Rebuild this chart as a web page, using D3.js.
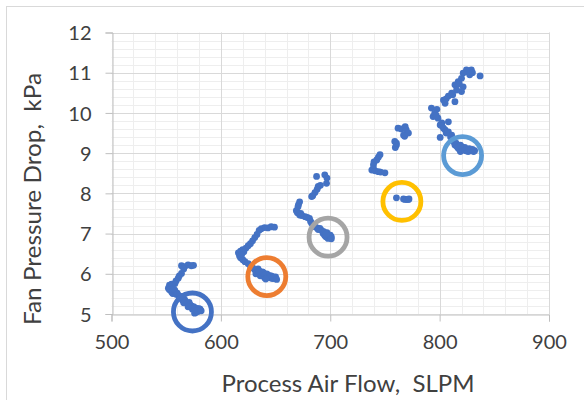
<!DOCTYPE html>
<html>
<head>
<meta charset="utf-8">
<script src="https://cdn.jsdelivr.net/npm/d3@7"></script>
<style>
  html, body { margin: 0; padding: 0; background: #fff; }
  svg { display: block; }
  text { font-family: Lato, "Open Sans", sans-serif; fill: #404040; }
</style>
</head>
<body>
<svg id="chart" width="584" height="400"></svg>
<script>
// Operating runs: [process air flow (SLPM), fan pressure drop (kPa)]
const run1 = [
  [564, 6.20], [567, 6.18], [570, 6.22], [573, 6.20], [575, 6.21], [566, 6.12],
  [564, 6.01], [562, 5.95], [561, 5.89], [559, 5.82], [558, 5.76], [555, 5.74],
  [553, 5.72], [552, 5.64], [553, 5.60], [555, 5.55], [556, 5.51], [559, 5.49],
  [561, 5.47], [563, 5.44], [564, 5.43], [566, 5.38], [567, 5.35], [568, 5.30],
  [569, 5.27], [570, 5.25], [572, 5.22], [573, 5.20], [575, 5.18], [576, 5.16],
  [578, 5.14], [580, 5.13], [581, 5.12], [579, 5.06], [577, 5.04], [576, 5.02],
  [571, 5.29], [565, 5.34], [558, 5.58], [562, 5.40], [574, 5.12], [560, 5.52],
  [557, 5.62], [566, 5.28], [570, 5.18], [578, 5.09], [582, 5.08]
];
const run2 = [
  [637, 7.12], [640, 7.15], [643, 7.14], [646, 7.17], [649, 7.16], [635, 7.08],
  [633, 6.98], [631, 6.90], [629, 6.82], [627, 6.75], [625, 6.70], [623, 6.64],
  [620, 6.60], [618, 6.56], [616, 6.52], [617, 6.45], [618, 6.40], [620, 6.35],
  [622, 6.30], [625, 6.25], [627, 6.20], [629, 6.15], [631, 6.10], [633, 6.05],
  [635, 6.02], [637, 5.98], [639, 5.95], [641, 5.93], [643, 5.92], [645, 5.90],
  [647, 5.88], [649, 5.88], [636, 5.95], [640, 5.90], [644, 5.96], [632, 6.00],
  [638, 6.05], [634, 6.12], [642, 6.00], [650, 5.92], [621, 6.55], [619, 6.48],
  [646, 5.95], [648, 5.92], [639, 6.02], [635, 6.07], [641, 5.87], [651, 5.86]
];
const run3 = [
  [687.5, 8.42], [695, 8.46], [697, 8.38], [696.6, 8.25], [689, 8.17], [691, 8.20],
  [688, 8.10], [686, 8.02], [684, 7.94], [683, 7.92], [672, 7.79], [671, 7.72],
  [670.5, 7.67], [669, 7.57], [670, 7.52], [672, 7.46], [674, 7.45], [677, 7.42],
  [679, 7.40], [681, 7.38], [682, 7.30], [683, 7.26], [685, 7.20], [686, 7.17],
  [688, 7.14], [690.5, 7.13], [692, 7.08], [693.5, 7.00], [695, 6.95], [696, 6.92],
  [698, 6.88], [700, 6.90], [701, 6.92], [699, 6.95], [697, 7.02], [694, 7.05],
  [700, 6.96], [689, 7.10], [673, 7.50], [684, 7.22], [696, 6.99], [701, 6.87]
];
const run4 = [
  [738, 8.58], [739.5, 8.62], [741, 8.56], [744, 8.54], [746, 8.53], [750, 8.51],
  [739.5, 8.71], [740, 8.78], [742.5, 8.83], [744, 8.90], [745.5, 8.96],
  [759, 9.29], [760.5, 9.20], [759.5, 9.14], [760.5, 9.25],
  [762, 9.62], [765, 9.60], [768.5, 9.66], [769.5, 9.58], [771.5, 9.50],
  [767, 9.45], [768, 9.42]
];
const run5 = [
  [760.5, 7.89], [767, 7.86], [768.5, 7.85], [770, 7.85], [771.5, 7.85], [772, 7.86]
];
const run6 = [
  [824.5, 11.07], [829, 11.07], [827.5, 10.95], [826, 11.02], [821.5, 10.99], [837, 10.92],
  [830, 11.00], [820, 10.86], [817, 10.78], [814, 10.70], [821.5, 10.65], [820, 10.53],
  [815.5, 10.57], [811, 10.49], [808, 10.42], [803.5, 10.32], [814, 10.28], [805, 10.24],
  [806, 10.35], [792.5, 10.12], [797.5, 10.09], [795.5, 9.99], [794, 9.91], [796, 9.95],
  [798.5, 9.87], [808, 9.78], [800.5, 9.70], [802, 9.75], [803.5, 9.62], [805, 9.58],
  [808, 9.53], [800.5, 9.39], [811, 9.45], [812.5, 9.33], [814, 9.20], [815, 9.25],
  [817, 9.12], [819, 9.04], [821.5, 9.08], [824, 9.06], [826, 9.04], [828, 9.06],
  [831, 9.04], [832, 9.06], [818, 9.10], [822, 9.12], [825, 9.08], [810, 9.40],
  [797, 9.93], [802, 9.68], [818, 10.72], [812, 10.45],
  [816, 9.16], [820, 9.16], [823, 9.14], [827, 9.11], [830, 9.09], [819, 9.20],
  [813, 9.28], [806, 9.50]
];

// Highlighted steady-state points: [flow, pressure, ring colour]
const highlights = [
  [574, 5.05, "#4472C4"],
  [642, 5.93, "#ED7D31"],
  [698, 6.91, "#A5A5A5"],
  [765.5, 7.80, "#FFC000"],
  [821, 8.94, "#5B9BD5"]
];

const xTicks = [500, 600, 700, 800, 900];
const yTicks = [5, 6, 7, 8, 9, 10, 11, 12];
const xTitle = "Process Air Flow,  SLPM";
const yTitle = "Fan Pressure Drop,  kPa";

const points = [].concat(run1, run2, run3, run4, run5, run6);

const svg = d3.select("#chart");
const plot = { left: 111.5, right: 549, top: 32.5, bottom: 314 };

const x = d3.scaleLinear().domain([500, 900]).range([plot.left, plot.right]);
const y = d3.scaleLinear().domain([5, 12]).range([plot.bottom, plot.top]);

// chart frame
svg.append("rect")
  .attr("x", 6.5).attr("y", 6.5).attr("width", 620).attr("height", 420)
  .attr("fill", "#fff").attr("stroke", "#d9d9d9").attr("stroke-width", 1);

// minor gridlines
const g = svg.append("g");
g.selectAll("line.xminor").data(d3.range(500, 901, 20)).join("line")
  .attr("x1", d => Math.round(x(d)) + 0.5).attr("x2", d => Math.round(x(d)) + 0.5)
  .attr("y1", plot.top).attr("y2", plot.bottom)
  .attr("stroke", "#eeeeee");
g.selectAll("line.yminor").data(d3.range(50, 121, 2).map(v => v / 10)).join("line")
  .attr("y1", d => Math.round(y(d)) + 0.5).attr("y2", d => Math.round(y(d)) + 0.5)
  .attr("x1", plot.left).attr("x2", plot.right)
  .attr("stroke", "#eeeeee");

// major gridlines
g.selectAll("line.xmajor").data(xTicks.slice(1)).join("line")
  .attr("x1", d => Math.round(x(d)) + 0.5).attr("x2", d => Math.round(x(d)) + 0.5)
  .attr("y1", plot.top).attr("y2", plot.bottom)
  .attr("stroke", "#d9d9d9");
g.selectAll("line.ymajor").data(yTicks.slice(1)).join("line")
  .attr("y1", d => Math.round(y(d)) + 0.5).attr("y2", d => Math.round(y(d)) + 0.5)
  .attr("x1", plot.left).attr("x2", plot.right)
  .attr("stroke", "#d9d9d9");

// axes
const xAxis = svg.append("g")
  .attr("transform", `translate(0,${Math.round(plot.bottom) + 0.5})`)
  .call(d3.axisBottom(x).tickValues(xTicks).tickSize(7).tickPadding(10).tickFormat(d3.format("d")));
const yAxis = svg.append("g")
  .attr("transform", `translate(${Math.round(plot.left) + 0.5},0)`)
  .call(d3.axisLeft(y).tickValues(yTicks).tickSize(7).tickPadding(14).tickFormat(d3.format("d")));
[xAxis, yAxis].forEach(a => {
  a.select(".domain").attr("stroke", "#bfbfbf");
  a.selectAll(".tick line").attr("stroke", "#bfbfbf");
  a.selectAll(".tick text").attr("font-size", 20).attr("font-family", "Lato, sans-serif").attr("fill", "#333");
});
yAxis.selectAll(".tick text").attr("dy", "0.36em");
xAxis.selectAll(".tick text").attr("dy", "0.85em");

// data points
svg.append("g").selectAll("circle").data(points).join("circle")
  .attr("cx", d => x(d[0])).attr("cy", d => y(d[1]))
  .attr("r", 3.4).attr("fill", "#4472C4");

// highlight rings
svg.append("g").selectAll("circle").data(highlights).join("circle")
  .attr("cx", d => x(d[0])).attr("cy", d => y(d[1]))
  .attr("r", 19).attr("fill", "none")
  .attr("stroke", d => d[2]).attr("stroke-width", 4.8);

// axis titles
svg.append("text")
  .attr("x", 348).attr("y", 392)
  .attr("text-anchor", "middle").attr("font-size", 24)
  .attr("fill", "#333")
  .attr("textLength", 253).attr("lengthAdjust", "spacingAndGlyphs")
  .style("white-space", "pre")
  .text(xTitle);
svg.append("text")
  .attr("transform", "translate(41,199) rotate(-90)")
  .attr("text-anchor", "middle").attr("font-size", 24)
  .attr("fill", "#333")
  .attr("textLength", 252).attr("lengthAdjust", "spacingAndGlyphs")
  .style("white-space", "pre")
  .text(yTitle);
</script>
</body>
</html>
